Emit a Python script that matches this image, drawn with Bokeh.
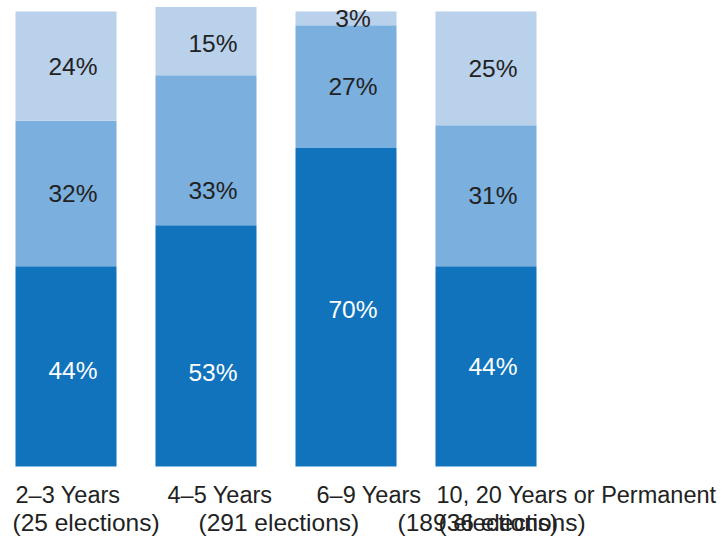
from bokeh.plotting import figure
from bokeh.models import ColumnDataSource, Range1d
from bokeh.core.properties import value
from bokeh.embed import file_html
from bokeh.resources import INLINE

# ---- data ----
categories = ["2–3 Years", "4–5 Years", "6–9 Years", "10, 20 Years or Permanent"]
counts = ["(25 elections)", "(291 elections)", "(189 elections)", "(36 elections)"]
seg_low = [44, 53, 70, 44]
seg_mid = [32, 33, 27, 31]
seg_top = [24, 15, 3, 25]

colors = ["#1073BC", "#7AAFDE", "#BAD1EC"]
text_colors = ["white", "#222222", "#222222"]

# layout (pixels)
W, H = 728, 539
px_per_cat = 140
first_center = 65.5
zero_px = 466
px_per_pct = 4.55
bar_px = 101

x = list(range(len(categories)))
bw = bar_px / px_per_cat

p = figure(width=W, height=H,
           x_range=Range1d(-first_center / px_per_cat, -first_center / px_per_cat + W / px_per_cat),
           y_range=Range1d(-(H - zero_px) / px_per_pct, (zero_px) / px_per_pct),
           output_backend="svg", toolbar_location=None,
           x_axis_location=None, y_axis_location=None,
           min_border=0, outline_line_color=None)
p.grid.visible = False
p.background_fill_color = "white"
p.border_fill_color = "white"

src = ColumnDataSource(dict(x=x, low=seg_low, mid=seg_mid, top=seg_top))
p.vbar_stack(["low", "mid", "top"], x="x", width=bw, color=colors, line_color=None, source=src)

# percentage labels (centered in each segment; bar 2 labels nudged as in the reference)
nudge = {(0, 0): 4, (1, 0): 27, (1, 1): 40, (1, 2): 2, (2, 0): 2}
series = [seg_low, seg_mid, seg_top]
for k, seg in enumerate(series):
    ys, txt, offs = [], [], []
    for i in x:
        base = sum(series[j][i] for j in range(k))
        ys.append(base + seg[i] / 2)
        txt.append(f"{seg[i]}%")
        offs.append(nudge.get((i, k), 0))
    s = ColumnDataSource(dict(x=x, y=ys, t=txt, o=offs))
    p.text(x="x", y="y", text="t", source=s, x_offset=7, y_offset="o",
           text_align="center", text_baseline="middle",
           text_font=value("Liberation Sans"), text_font_size="24.5px",
           text_color=text_colors[k])

# category labels (left aligned, offsets from bar left edge as in reference)
line1_off = [0, 12, 21, 1]
line2_off = [-3, 43, 102, 3]
s1 = ColumnDataSource(dict(x=x, y=[0] * 4, t=categories,
                           o=[-bar_px / 2 + v for v in line1_off]))
s2 = ColumnDataSource(dict(x=x, y=[0] * 4, t=counts,
                           o=[-bar_px / 2 + v for v in line2_off]))
for s, yo, fs in ((s1, 28, "23.5px"), (s2, 56, "24.5px")):
    p.text(x="x", y="y", text="t", source=s, x_offset="o", y_offset=yo,
           text_align="left", text_baseline="middle",
           text_font=value("Liberation Sans"), text_font_size=fs,
           text_color="#222222")

open("out.html", "w").write(file_html(p, INLINE))
